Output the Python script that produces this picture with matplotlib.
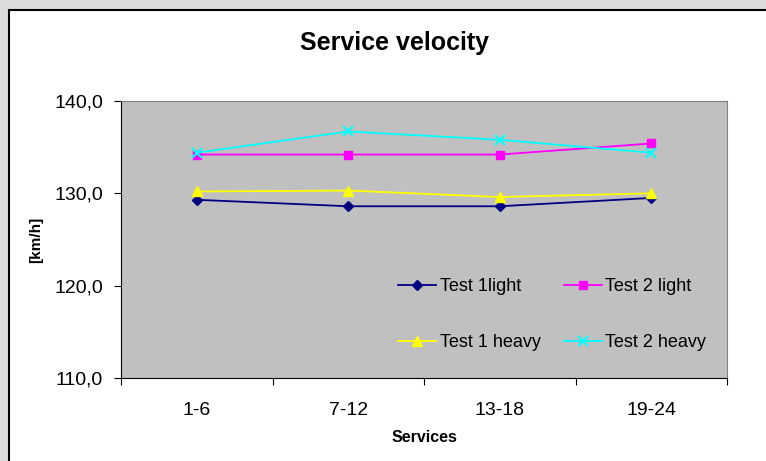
import matplotlib
matplotlib.use("Agg")
import matplotlib.pyplot as plt
from matplotlib.patches import Rectangle
from matplotlib.ticker import FuncFormatter, FixedLocator

plt.rcParams['font.family'] = ['Liberation Sans', 'DejaVu Sans']

categories = ["1-6", "7-12", "13-18", "19-24"]
test1_light = [129.3, 128.6, 128.6, 129.5]
test2_light = [134.2, 134.2, 134.2, 135.4]
test1_heavy = [130.2, 130.3, 129.6, 130.0]
test2_heavy = [134.4, 136.7, 135.8, 134.4]
yticks = [110, 120, 130, 140]

fig = plt.figure(figsize=(7.66, 4.61), dpi=100)
fig.patch.set_facecolor('#dcdcdc')
fig.add_artist(Rectangle((9/766, -0.05), 1.0, 1 - 10.5/461 + 0.05,
                         transform=fig.transFigure, facecolor='white',
                         edgecolor='black', linewidth=1.5, zorder=0))

ax = fig.add_axes([121/766, 1 - 378/461, (727-121)/766, (378-101)/461])
ax.set_facecolor('#c0c0c0')
x = list(range(len(categories)))

l1, = ax.plot(x, test1_light, color='#000080', marker='D', markersize=5.5, lw=1.3, label='Test 1light')
l2, = ax.plot(x, test2_light, color='#ff00ff', marker='s', markersize=6, lw=1.3, label='Test 2 light')
l3, = ax.plot(x, test1_heavy, color='#ffff00', marker='^', markersize=7, lw=1.3, label='Test 1 heavy')
l4, = ax.plot(x, test2_heavy, color='#00ffff', marker='x', markersize=7, mew=1.5, lw=1.3, label='Test 2 heavy')

ax.set_xlim(-0.5, len(categories) - 0.5)
ax.set_ylim(110, 140)
ax.set_yticks(yticks)
ax.yaxis.set_major_formatter(FuncFormatter(lambda v, p: f"{v:.1f}".replace('.', ',')))
ax.xaxis.set_major_locator(FixedLocator([i - 0.5 for i in range(len(categories) + 1)]))
ax.xaxis.set_minor_locator(FixedLocator(x))
ax.set_xticklabels([], minor=False)
ax.set_xticklabels(categories, minor=True)
ax.tick_params(axis='x', which='major', direction='out', length=5, width=0.8)
ax.tick_params(axis='x', which='minor', length=0, labelsize=14, pad=17)
ax.tick_params(axis='y', direction='out', length=5, width=0.8, labelsize=14, pad=8)

for s in ['top', 'right']:
    ax.spines[s].set_color('#808080')
for s in ['left', 'bottom']:
    ax.spines[s].set_color('black')

ax.set_xlabel('Services', fontsize=11.5, fontweight='bold', labelpad=8)
ax.set_ylabel('[km/h]', fontsize=11, fontweight='bold', labelpad=8)
fig.text(394/766, 1 - 43/461, 'Service velocity', ha='center', va='center',
         fontsize=18, fontweight='bold')

ax.legend(handles=[l1, l3, l2, l4], loc='upper left', bbox_to_anchor=(382/766, 1 - 262/461),
          bbox_transform=fig.transFigure, ncol=2, frameon=False,
          fontsize=13, handlelength=2.1, handletextpad=0.2,
          columnspacing=1.28, labelspacing=2.15, borderpad=0.4)

fig.savefig('out.png', dpi=100, facecolor=fig.get_facecolor())
